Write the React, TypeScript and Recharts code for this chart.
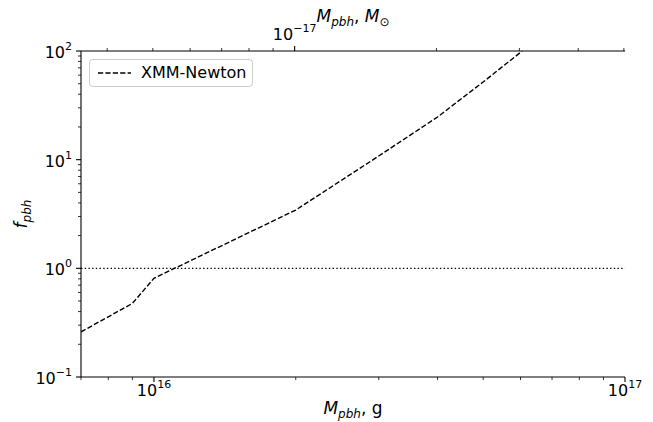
import React from 'react';
import { LineChart, Line, XAxis, YAxis, ReferenceLine } from 'recharts';

// ---- data ----
const massGrams = [7e15, 9e15, 1e16, 2e16, 3e16, 4e16, 5e16, 6.05e16];
const fpbhXMM = [0.26, 0.476, 0.81, 3.44, 10.8, 24.7, 51.9, 100];
const seriesName = 'XMM-Newton';

const bottomTicks = [7e15, 8e15, 9e15, 1e16, 2e16, 3e16, 4e16, 5e16, 6e16, 7e16, 8e16, 9e16, 1e17];
const solarMassGrams = 1.989e33;
const topTicksSolar = [4e-18, 5e-18, 6e-18, 7e-18, 8e-18, 9e-18, 1e-17, 2e-17, 3e-17, 4e-17, 5e-17];
const yTicks = [0.1, 0.2, 0.3, 0.4, 0.5, 0.6, 0.7, 0.8, 0.9, 1, 2, 3, 4, 5, 6, 7, 8, 9, 10, 20, 30, 40, 50, 60, 70, 80, 90, 100];

const data = massGrams.map((m, i) => ({ m, f: fpbhXMM[i] }));
const topTicks = topTicksSolar.map((v) => v * solarMassGrams);

const FONT = 'DejaVu Sans';
const W = 653;
const H = 422;
const PLOT_L = 81;
const PLOT_R = 625;
const PLOT_T = 51;
const PLOT_B = 377;
const TICK_FS = 16;
const SUP_FS = 11;

const isMajor = (v: number) => Math.abs(Math.log10(v) - Math.round(Math.log10(v))) < 1e-6;
const expOf = (v: number) => {
  const e = Math.round(Math.log10(v));
  return e < 0 ? '\u2212' + Math.abs(e) : String(e);
};

const BottomTick = (props: any) => {
  const { x, y, payload } = props;
  const v = payload.value;
  const major = isMajor(v);
  return (
    <g>
      <line x1={x} x2={x} y1={y} y2={y + (major ? 5 : 3)} stroke="#000" strokeWidth={major ? 1.1 : 0.8} />
      {major && (
        <text x={x} y={y + 19} textAnchor="middle" fontFamily={FONT} fontSize={TICK_FS} fill="#000">
          10<tspan dy={-8} fontSize={SUP_FS}>{expOf(v)}</tspan>
        </text>
      )}
    </g>
  );
};

const TopTick = (props: any) => {
  const { x, y, payload } = props;
  const vs = payload.value / solarMassGrams;
  const major = isMajor(vs);
  return (
    <g>
      <line x1={x} x2={x} y1={y} y2={y - (major ? 5 : 3)} stroke="#000" strokeWidth={major ? 1.1 : 0.8} />
      {major && (
        <text x={x} y={y - 11} textAnchor="middle" fontFamily={FONT} fontSize={TICK_FS} fill="#000">
          10<tspan dy={-8} fontSize={SUP_FS}>{expOf(vs)}</tspan>
        </text>
      )}
    </g>
  );
};

const LeftTick = (props: any) => {
  const { x, y, payload } = props;
  const v = payload.value;
  const major = isMajor(v);
  return (
    <g>
      <line x1={x} x2={x - (major ? 5 : 3)} y1={y} y2={y} stroke="#000" strokeWidth={major ? 1.1 : 0.8} />
      {major && (
        <text x={x - 9} y={y + 7} textAnchor="end" fontFamily={FONT} fontSize={TICK_FS} fill="#000">
          10<tspan dy={-8} fontSize={SUP_FS}>{expOf(v)}</tspan>
        </text>
      )}
    </g>
  );
};

const BottomLabel = () => (
  <text x={(PLOT_L + PLOT_R) / 2} y={414} textAnchor="middle" fontFamily={FONT} fontSize={17} fill="#000">
    <tspan fontStyle="italic">M</tspan>
    <tspan fontStyle="italic" fontSize={12} dy={4}>pbh</tspan>
    <tspan dy={-4}>, g</tspan>
  </text>
);

const TopLabel = () => (
  <text x={(PLOT_L + PLOT_R) / 2} y={22} textAnchor="middle" fontFamily={FONT} fontSize={17} fill="#000">
    <tspan fontStyle="italic">M</tspan>
    <tspan fontStyle="italic" fontSize={12} dy={4}>pbh</tspan>
    <tspan dy={-4}>, </tspan>
    <tspan fontStyle="italic">M</tspan>
    <tspan fontSize={12} dy={4}>{'\u2299'}</tspan>
  </text>
);

const LeftLabel = () => (
  <text
    x={27}
    y={(PLOT_T + PLOT_B) / 2}
    transform={`rotate(-90 27 ${(PLOT_T + PLOT_B) / 2})`}
    textAnchor="middle"
    fontFamily={FONT}
    fontSize={17}
    fill="#000"
  >
    <tspan fontStyle="italic">f</tspan>
    <tspan fontStyle="italic" fontSize={12} dy={4}>pbh</tspan>
  </text>
);

export default function App() {
  return (
    <div style={{ position: 'absolute', left: 0, top: 0, width: W, height: H, background: '#fff' }}>
      <LineChart width={W} height={H} data={data} margin={{ top: 0, right: W - PLOT_R, bottom: 0, left: 0 }}>
        <XAxis
          xAxisId="bottom"
          dataKey="m"
          type="number"
          scale="log"
          domain={[7e15, 1e17]}
          allowDataOverflow
          ticks={bottomTicks}
          interval={0}
          height={H - PLOT_B}
          tickSize={0}
          tickMargin={0}
          tickLine={false}
          tick={<BottomTick />}
          axisLine={{ stroke: '#000', strokeWidth: 1.1 }}
          label={<BottomLabel />}
        />
        <XAxis
          xAxisId="top"
          orientation="top"
          dataKey="m"
          type="number"
          scale="log"
          domain={[7e15, 1e17]}
          allowDataOverflow
          ticks={topTicks}
          interval={0}
          height={PLOT_T}
          tickSize={0}
          tickMargin={0}
          tickLine={false}
          tick={<TopTick />}
          axisLine={{ stroke: '#000', strokeWidth: 1.1 }}
          label={<TopLabel />}
        />
        <YAxis
          yAxisId="left"
          dataKey="f"
          type="number"
          scale="log"
          domain={[0.1, 100]}
          allowDataOverflow
          ticks={yTicks}
          interval={0}
          width={PLOT_L}
          tickSize={0}
          tickMargin={0}
          tickLine={false}
          tick={<LeftTick />}
          axisLine={{ stroke: '#000', strokeWidth: 1.1 }}
          label={<LeftLabel />}
        />
        <YAxis
          yAxisId="right"
          orientation="right"
          dataKey="f"
          type="number"
          scale="log"
          domain={[0.1, 100]}
          allowDataOverflow
          width={0}
          tick={false}
          tickLine={false}
          axisLine={{ stroke: '#000', strokeWidth: 1.1 }}
        />
        <ReferenceLine
          xAxisId="bottom"
          yAxisId="left"
          y={1}
          stroke="#000"
          strokeWidth={1.4}
          strokeDasharray="1.4 2.3"
        />
        <Line
          xAxisId="bottom"
          yAxisId="left"
          dataKey="f"
          name={seriesName}
          type="linear"
          stroke="#000"
          strokeWidth={1.4}
          strokeDasharray="5.2 2.2"
          dot={false}
          activeDot={false}
          isAnimationActive={false}
        />
      </LineChart>
      <div
        style={{
          position: 'absolute',
          left: 89,
          top: 59,
          width: 164,
          height: 28,
          boxSizing: 'border-box',
          border: '1px solid #cccccc',
          borderRadius: 4,
          background: 'rgba(255,255,255,0.8)',
          fontFamily: FONT,
          fontSize: 16,
          color: '#000',
        }}
      >
        <svg width={40} height={26} style={{ position: 'absolute', left: 7, top: 0 }}>
          <line x1={1} x2={34} y1={13} y2={13} stroke="#000" strokeWidth={1.4} strokeDasharray="5.2 2.2" />
        </svg>
        <span style={{ position: 'absolute', left: 51, top: 3, lineHeight: '19px', whiteSpace: 'nowrap' }}>{seriesName}</span>
      </div>
    </div>
  );
}
